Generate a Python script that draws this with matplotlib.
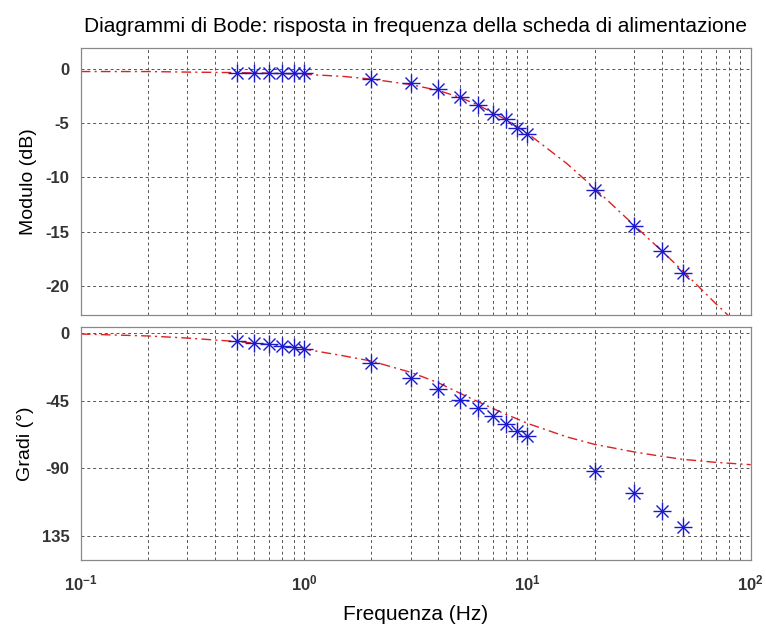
import numpy as np
import matplotlib
matplotlib.use("Agg")
import matplotlib.pyplot as plt
from matplotlib.ticker import LogLocator, NullFormatter, FixedLocator, FixedFormatter

# ---- data ----
freq_meas = [0.5, 0.6, 0.7, 0.8, 0.9, 1, 2, 3, 4, 5, 6, 7, 8, 9, 10, 20, 30, 40, 50]
mag_meas = [-0.3, -0.3, -0.3, -0.3, -0.3, -0.3, -0.85, -1.3, -1.85, -2.6, -3.3, -4.1,
            -4.6, -5.4, -6.0, -11.2, -14.5, -16.8, -18.8]
phase_meas = [-5.0, -6.5, -7.2, -8.5, -9.4, -10.3, -20.1, -30.0, -36.9, -44.7, -49.6,
              -55.3, -60.6, -64.9, -68.4, -91.7, -106.2, -118.5, -129.0]

freq_model = [0.1, 0.2, 0.3, 0.5, 0.7, 1, 1.5, 2, 3, 4, 5, 6, 7, 8, 9, 10, 15, 20,
              30, 40, 50, 70, 100]
mag_model = [-0.2, -0.2, -0.25, -0.3, -0.35, -0.45, -0.65, -0.9, -1.4, -1.95, -2.6,
             -3.3, -4.0, -4.65, -5.3, -5.9, -8.7, -11.0, -14.4, -16.8, -18.7, -21.7, -24.7]
phase_model = [-0.5, -1.8, -3.2, -5.5, -7.5, -10.5, -15.0, -18.5, -26.0, -33.0, -40.0,
               -45.5, -50.0, -54.0, -57.0, -60.0, -69.0, -74.0, -79.0, -82.0, -84.0,
               -86.0, -87.5]

mag_ticks = [0, -5, -10, -15, -20]
mag_ticklabels = ["0", "-5", "-10", "-15", "-20"]
phase_ticks = [0, -45, -90, -135]
phase_ticklabels = ["0", "-45", "-90", "135"]

title = "Diagrammi di Bode: risposta in frequenza della scheda di alimentazione"
xlabel = "Frequenza (Hz)"
ylabel_top = "Modulo (dB)"
ylabel_bot = "Gradi (°)"

plt.rcParams['font.family'] = ['Liberation Sans', 'DejaVu Sans']

fig = plt.figure(figsize=(7.66, 6.26), dpi=100)
W, H = 766, 626
ax1 = fig.add_axes([80.7 / W, 1 - 314.8 / H, 670 / W, (314.8 - 48.3) / H])
ax2 = fig.add_axes([80.7 / W, 1 - 560 / H, 670 / W, (560 - 327.4) / H])

grid_kw = dict(color='#555555', linestyle=(0, (3, 3)), linewidth=0.7)
tick_color = '#333333'

def style(ax):
    ax.set_xscale('log')
    ax.set_xlim(0.1, 100)
    ax.xaxis.set_major_locator(LogLocator(base=10, numticks=10))
    ax.xaxis.set_minor_locator(LogLocator(base=10, subs=np.arange(2, 10), numticks=20))
    ax.xaxis.set_minor_formatter(NullFormatter())
    ax.grid(True, which='major', axis='both', **grid_kw)
    ax.grid(True, which='minor', axis='x', **grid_kw)
    for s in ax.spines.values():
        s.set_color('#888888')
        s.set_linewidth(0.9)
    ax.tick_params(which='both', direction='in', length=0, colors=tick_color,
                   labelsize=12, pad=8)
    ax.tick_params(axis='x', pad=10)
    ax.set_axisbelow(True)

def draw(ax, fm, ym, fmod, ymod):
    ax.plot(fmod, ymod, color='#dd2020', linestyle=(0, (7, 3, 1.5, 3)), linewidth=1.0)
    ax.plot(fm, ym, linestyle='none', marker='+', markersize=13, markeredgewidth=1.0,
            color='#1a1acc')
    ax.plot(fm, ym, linestyle='none', marker='x', markersize=8, markeredgewidth=1.0,
            color='#1a1acc')

style(ax1)
style(ax2)
draw(ax1, freq_meas, mag_meas, freq_model, mag_model)
draw(ax2, freq_meas, phase_meas, freq_model, phase_model)

ax1.set_ylim(-22.7, 1.95)
ax1.yaxis.set_major_locator(FixedLocator(mag_ticks))
ax1.yaxis.set_major_formatter(FixedFormatter(mag_ticklabels))
ax1.tick_params(axis='x', labelbottom=False)

ax2.set_ylim(-151, 3.9)
ax2.yaxis.set_major_locator(FixedLocator(phase_ticks))
ax2.yaxis.set_major_formatter(FixedFormatter(phase_ticklabels))

for lab in ax1.get_yticklabels() + ax2.get_yticklabels() + ax2.get_xticklabels():
    lab.set_fontweight('bold')

ax1.set_title(title, fontsize=15, pad=12)
ax1.set_ylabel(ylabel_top, fontsize=14, labelpad=6)
ax2.set_ylabel(ylabel_bot, fontsize=14, labelpad=6)
ax2.set_xlabel(xlabel, fontsize=15, labelpad=8)

fig.savefig("out.png", dpi=100)
